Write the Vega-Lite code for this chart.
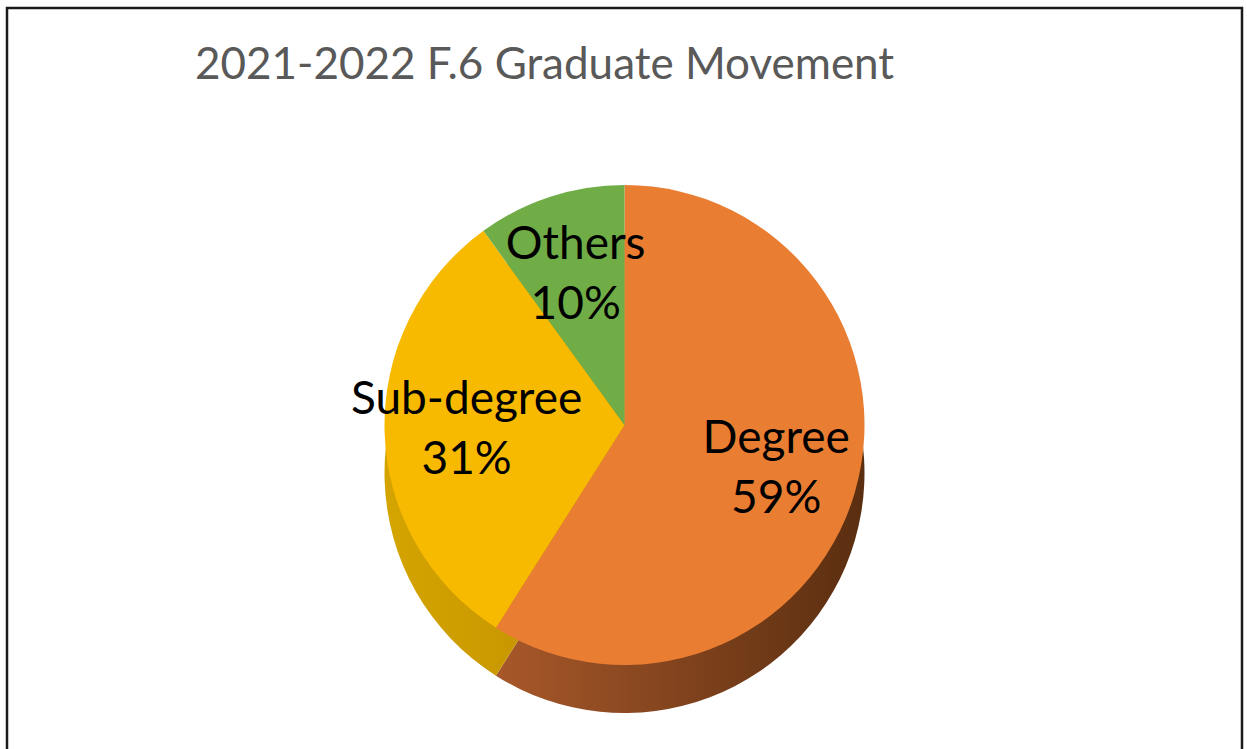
{
  "$schema": "https://vega.github.io/schema/vega-lite/v6.json",
  "autosize": {"type": "fit", "contains": "padding"},
  "width": 1247,
  "height": 749,
  "padding": {"left": 7, "top": 8, "right": 5, "bottom": -93},
  "background": "white",
  "view": {"stroke": "#1a1a1a", "strokeWidth": 2.5},
  "title": {
    "text": "2021-2022 F.6 Graduate Movement",
    "anchor": "start",
    "dx": 188,
    "offset": -80,
    "font": "Lato",
    "fontSize": 44,
    "fontWeight": "normal",
    "color": "#595959"
  },
  "data": {
    "values": [
      {"category": "Degree", "percent": 59, "pct": "59%", "order": 1},
      {"category": "Sub-degree", "percent": 31, "pct": "31%", "order": 2},
      {"category": "Others", "percent": 10, "pct": "10%", "order": 3}
    ]
  },
  "encoding": {
    "theta": {"field": "percent", "type": "quantitative", "stack": true},
    "order": {"field": "order", "type": "quantitative"}
  },
  "layer": [
    {
      "mark": {"type": "arc", "outerRadius": 240, "yOffset": 48},
      "encoding": {
        "color": {
          "condition": {
            "test": "datum.category === 'Degree'",
            "value": {"gradient": "linear", "x1": 0, "y1": 0, "x2": 1, "y2": 0, "stops": [{"offset": 0, "color": "#A8582A"}, {"offset": 1, "color": "#5A2E10"}]}
          },
          "value": {"gradient": "linear", "x1": 0, "y1": 0, "x2": 1, "y2": 0, "stops": [{"offset": 0, "color": "#D4A400"}, {"offset": 1, "color": "#C08E00"}]}
        }
      }
    },
    {
      "mark": {"type": "arc", "outerRadius": 240},
      "encoding": {
        "color": {
          "field": "category",
          "type": "nominal",
          "scale": {"domain": ["Degree", "Sub-degree", "Others"], "range": ["#E97D32", "#F7BA00", "#70AD47"]},
          "legend": null
        }
      }
    },
    {
      "mark": {"type": "text", "radius": 158, "dy": -30, "font": "Lato", "fontSize": 46, "color": "black"},
      "encoding": {"text": {"field": "category"}}
    },
    {
      "mark": {"type": "text", "radius": 158, "dy": 30, "font": "Lato", "fontSize": 46, "color": "black"},
      "encoding": {"text": {"field": "pct"}}
    }
  ]
}
